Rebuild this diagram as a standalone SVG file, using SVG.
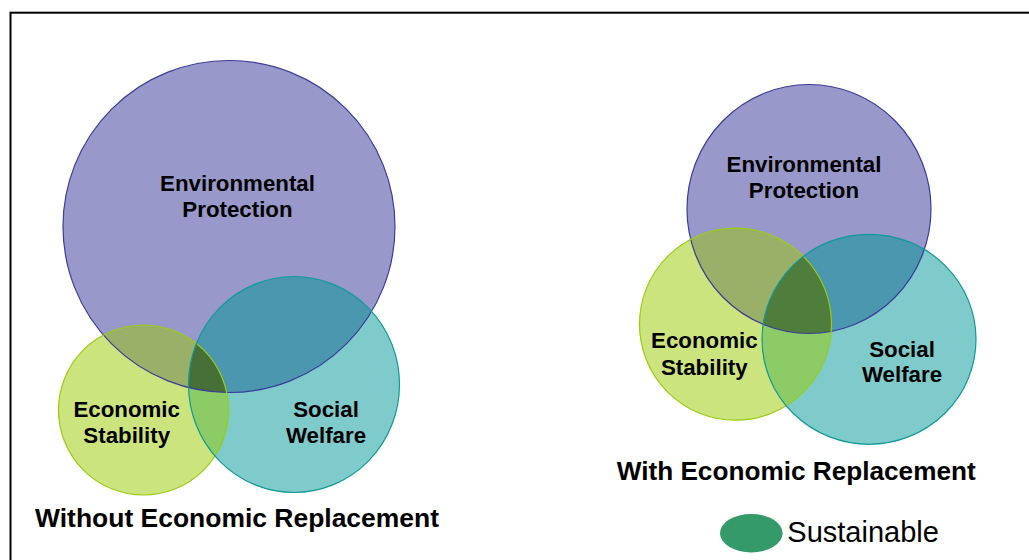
<svg xmlns="http://www.w3.org/2000/svg" width="1029" height="560" viewBox="0 0 1029 560">
  <style>
    .lbl { font-family: "Liberation Sans", Arial, sans-serif; font-weight: bold; font-size: 22.3px; fill: #000; text-anchor: middle; }
    .title { font-family: "Liberation Sans", Arial, sans-serif; font-weight: bold; font-size: 26px; fill: #000; }
    .legend { font-family: "Liberation Sans", Arial, sans-serif; font-size: 29px; fill: #000; }
    .pF { fill: #9898CA; }
    .gF { fill: #CCE47E; }
    .tF { fill: #7FCACA; }
    .pgF { fill: #9AB068; }
    .ptF { fill: #4A97AF; }
    .gtF { fill: #8DCB66; }
    .pgtF { fill: #476F38; }
    .pgtF2 { fill: #4E7D3C; }
    .pS { fill: none; stroke: #3C3C9A; stroke-width: 1.2; }
    .gS { fill: none; stroke: #99CC11; stroke-width: 1.2; }
    .tS { fill: none; stroke: #119999; stroke-width: 1.2; }
  </style>
  <defs>
    <circle id="LP" cx="229" cy="226.5" r="166"/>
    <circle id="LG" cx="143.5" cy="410" r="85"/>
    <ellipse id="LT" cx="294" cy="384.5" rx="105.5" ry="108"/>
    <ellipse id="RP" cx="809" cy="209" rx="122" ry="124.5"/>
    <circle id="RG" cx="735.5" cy="324.2" r="96"/>
    <ellipse id="RT" cx="869" cy="339.3" rx="107" ry="105"/>
    <clipPath id="cLP"><use href="#LP"/></clipPath>
    <clipPath id="cLG"><use href="#LG"/></clipPath>
    <clipPath id="cLT"><use href="#LT"/></clipPath>
    <clipPath id="cRP"><use href="#RP"/></clipPath>
    <clipPath id="cRG"><use href="#RG"/></clipPath>
    <clipPath id="cRT"><use href="#RT"/></clipPath>
  </defs>

  <rect x="10.5" y="12.7" width="1040" height="570" fill="#fff" stroke="#000" stroke-width="2"/>

  <g id="connectors"/>

  <!-- Left diagram -->
  <g id="left-diagram">
    <g id="left-fills">
      <use href="#LP" class="pF"/>
      <use href="#LG" class="gF"/>
      <use href="#LT" class="tF"/>
      <use href="#LG" class="gtF" clip-path="url(#cLT)"/>
      <use href="#LP" class="pgF" clip-path="url(#cLG)"/>
      <use href="#LP" class="ptF" clip-path="url(#cLT)"/>
      <g clip-path="url(#cLT)"><use href="#LG" class="pgtF" clip-path="url(#cLP)"/></g>
    </g>
    <g id="left-environmental">
      <use href="#LP" class="pS"/>
      <text class="lbl" x="237.5" y="190.7">Environmental</text>
      <text class="lbl" x="237.5" y="216.7">Protection</text>
    </g>
    <g id="left-economic">
      <use href="#LG" class="gS"/>
      <text class="lbl" x="126.7" y="416.7">Economic</text>
      <text class="lbl" x="126.7" y="442.7">Stability</text>
    </g>
    <g id="left-social">
      <use href="#LT" class="tS"/>
      <text class="lbl" x="326" y="416.7">Social</text>
      <text class="lbl" x="326" y="442.7">Welfare</text>
    </g>
    <text id="left-title" class="title" x="35" y="527.3" textLength="404" lengthAdjust="spacingAndGlyphs">Without Economic Replacement</text>
  </g>

  <!-- Right diagram -->
  <g id="right-diagram">
    <g id="right-fills">
      <use href="#RP" class="pF"/>
      <use href="#RG" class="gF"/>
      <use href="#RT" class="tF"/>
      <use href="#RG" class="gtF" clip-path="url(#cRT)"/>
      <use href="#RP" class="pgF" clip-path="url(#cRG)"/>
      <use href="#RP" class="ptF" clip-path="url(#cRT)"/>
      <g clip-path="url(#cRT)"><use href="#RG" class="pgtF2" clip-path="url(#cRP)"/></g>
    </g>
    <g id="right-environmental">
      <use href="#RP" class="pS"/>
      <text class="lbl" x="804" y="172.3">Environmental</text>
      <text class="lbl" x="804" y="198.3">Protection</text>
    </g>
    <g id="right-economic">
      <use href="#RG" class="gS"/>
      <text class="lbl" x="704.3" y="348.3">Economic</text>
      <text class="lbl" x="704.3" y="375">Stability</text>
    </g>
    <g id="right-social">
      <use href="#RT" class="tS"/>
      <text class="lbl" x="902" y="356.7">Social</text>
      <text class="lbl" x="902" y="381.7">Welfare</text>
    </g>
    <text id="right-title" class="title" x="616.7" y="480" textLength="359" lengthAdjust="spacingAndGlyphs">With Economic Replacement</text>
  </g>

  <!-- Legend -->
  <g id="legend">
    <ellipse cx="751.3" cy="533.2" rx="31.3" ry="19.2" fill="#349A69"/>
    <text class="legend" x="787.3" y="541.7">Sustainable</text>
  </g>
</svg>
